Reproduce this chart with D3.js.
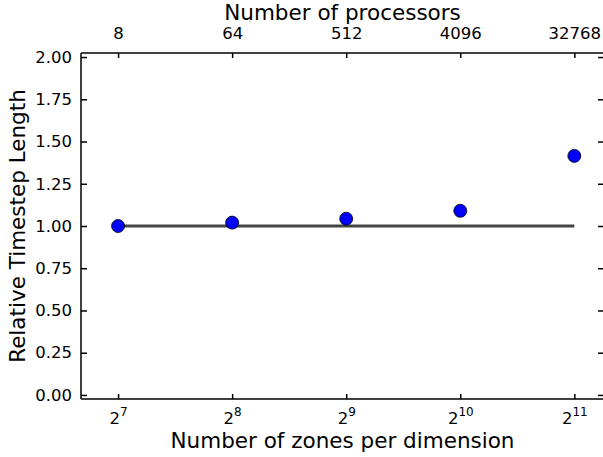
<!DOCTYPE html>
<html>
<head>
  <meta charset="utf-8">
  <script src="https://d3js.org/d3.v7.min.js"></script>
  <style>
    body { margin: 0; background: #fff; }
    svg text { font-family: "DejaVu Sans", sans-serif; fill: #000; }
    .axis .domain { display: none; }
    .axis line { stroke: #000; stroke-width: 1.5; }
  </style>
</head>
<body>
<svg width="603" height="457"></svg>
<script>
// data
var exponents = [7, 8, 9, 10, 11];               // zones per dimension = 2^e
var processors = [8, 64, 512, 4096, 32768];
var relStep = [1.00, 1.02, 1.043, 1.09, 1.415];
var yTicks = [0, 0.25, 0.5, 0.75, 1.0, 1.25, 1.5, 1.75, 2.0];

var svg = d3.select("svg"),
    margin = {top: 53, right: -1, bottom: 58, left: 81},
    width = +svg.attr("width") - margin.left - margin.right,
    height = +svg.attr("height") - margin.top - margin.bottom,
    g = svg.append("g").attr("transform", "translate(" + margin.left + "," + margin.top + ")");

var x = d3.scaleLog().base(2)
    .domain([Math.pow(2, 6.675), Math.pow(2, 11.26)])
    .range([0, width]);

var y = d3.scaleLinear()
    .domain([-0.024, 2.024])
    .range([height, 0]);

var zones = exponents.map(function(e) { return Math.pow(2, e); });

// bottom axis, ticks pointing in
var bottom = g.append("g")
    .attr("class", "axis")
    .attr("transform", "translate(0," + height + ")")
    .call(d3.axisBottom(x).tickValues(zones).tickSize(-5).tickFormat(""));
bottom.selectAll(".tick text").remove();
bottom.selectAll(".tick").append("text")
    .attr("y", 25)
    .attr("text-anchor", "middle")
    .style("font-size", "16.5px")
    .each(function(d) {
      var t = d3.select(this);
      t.append("tspan").text("2");
      t.append("tspan").attr("dy", -8).style("font-size", "12px").text(Math.round(Math.log2(d)));
    });

// top axis: processors
g.append("g")
    .attr("class", "axis")
    .call(d3.axisTop(x).tickValues(zones).tickSize(-5).tickPadding(14)
      .tickFormat(function(d, i) { return processors[i]; }))
  .selectAll("text")
    .style("font-size", "16.5px");

// left and right axes
g.append("g")
    .attr("class", "axis")
    .call(d3.axisLeft(y).tickValues(yTicks).tickSize(-6).tickPadding(9).tickFormat(d3.format(".2f")))
  .selectAll("text")
    .style("font-size", "16.5px");

g.append("g")
    .attr("class", "axis")
    .attr("transform", "translate(" + width + ",0)")
    .call(d3.axisRight(y).tickValues(yTicks).tickSize(-6).tickFormat(""));

// spines
g.append("line").attr("x1", 0).attr("x2", 0).attr("y1", 0).attr("y2", height)
    .attr("stroke", "#000").attr("stroke-width", 1.5);
g.append("line").attr("x1", 0).attr("x2", width).attr("y1", 0).attr("y2", 0)
    .attr("stroke", "#000").attr("stroke-width", 1.5);
g.append("line").attr("x1", 0).attr("x2", width).attr("y1", height).attr("y2", height)
    .attr("stroke", "#000").attr("stroke-width", 1.5);

// reference line at 1
g.append("line")
    .attr("x1", x(zones[0])).attr("x2", x(zones[zones.length - 1]))
    .attr("y1", y(1)).attr("y2", y(1))
    .attr("stroke", "#444").attr("stroke-width", 3);

// points
g.selectAll("circle")
    .data(relStep)
  .enter().append("circle")
    .attr("cx", function(d, i) { return x(zones[i]); })
    .attr("cy", function(d) { return y(d); })
    .attr("r", 6.5)
    .attr("fill", "#0000ff")
    .attr("stroke", "#000")
    .attr("stroke-width", 0.8);

// labels
svg.append("text")
    .attr("x", margin.left + width / 2)
    .attr("y", 448)
    .attr("text-anchor", "middle")
    .style("font-size", "21.5px")
    .text("Number of zones per dimension");

svg.append("text")
    .attr("x", margin.left + width / 2)
    .attr("y", 20)
    .attr("text-anchor", "middle")
    .style("font-size", "21.5px")
    .text("Number of processors");

svg.append("text")
    .attr("transform", "rotate(-90)")
    .attr("x", -(margin.top + y(1)))
    .attr("y", 25)
    .attr("text-anchor", "middle")
    .style("font-size", "21.5px")
    .text("Relative Timestep Length");
</script>
</body>
</html>
